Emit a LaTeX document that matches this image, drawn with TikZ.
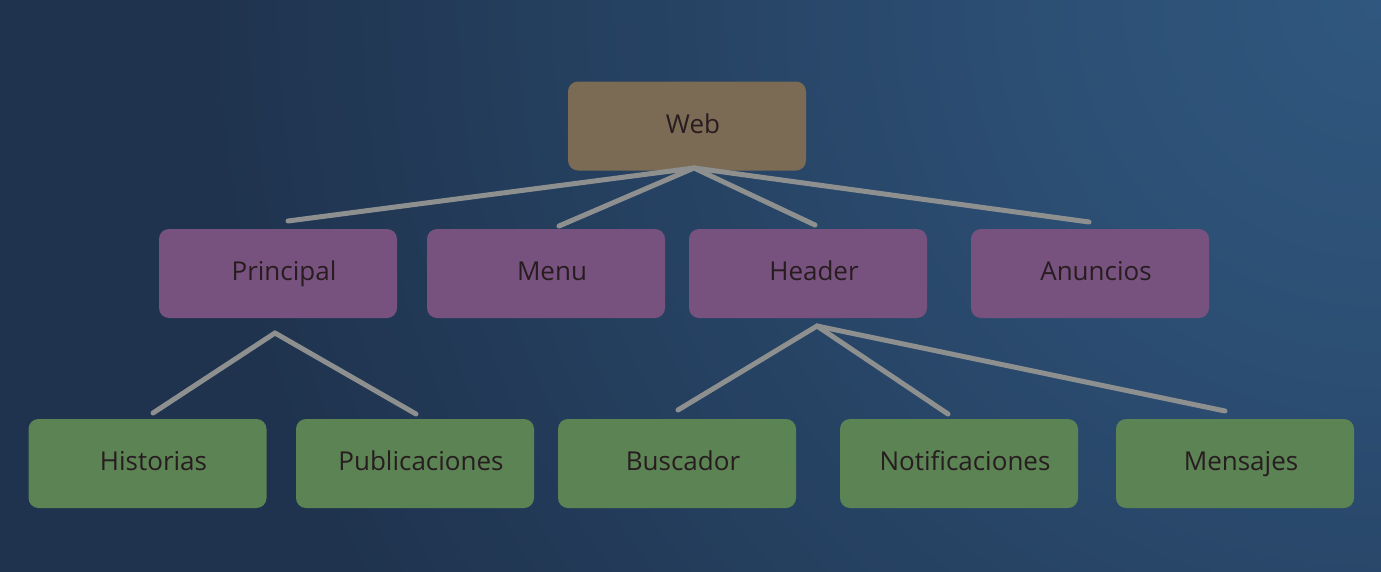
\documentclass[tikz,border=0pt]{standalone}
\usepackage{fontspec}
\setmainfont{Open Sans}
\usetikzlibrary{calc}
\definecolor{bgbase}{HTML}{1F334E}
\definecolor{bglight}{HTML}{30577F}
\definecolor{webfill}{HTML}{7C6B54}
\definecolor{purplefill}{HTML}{77527E}
\definecolor{greenfill}{HTML}{5B8353}
\definecolor{linkgray}{HTML}{8E9090}
\definecolor{textdark}{HTML}{271C20}
\pgfdeclareradialshading{bgglow}{\pgfpoint{0bp}{0bp}}{%
  color(0bp)=(bglight); color(6bp)=(bglight!75!bgbase); color(19bp)=(bgbase); color(50bp)=(bgbase)}
\tikzset{
  box/.style={rounded corners=10pt, minimum width=238pt, minimum height=89pt,
    inner sep=0pt, font=\fontsize{26}{30}\selectfont, text=textdark,
    text height=20pt, text depth=6pt,
    execute at begin node=\hspace*{12pt}},
  webbox/.style={box, fill=webfill},
  secbox/.style={box, fill=purplefill},
  leafbox/.style={box, fill=greenfill},
  link/.style={draw=linkgray, line width=5pt, line cap=round, line join=round}
}
\begin{document}
\begin{tikzpicture}[x=1pt,y=-1pt]
\useasboundingbox (0,0) rectangle (1381,571);
% background
\fill[bgbase] (0,0) rectangle (1381,571);
\begin{scope}
\clip (0,0) rectangle (1381,571);
\shade[shading=bgglow] (1381,0) circle (1550);
\end{scope}
% nodes
\node[webbox]  (web)   at (687,126)  {Web};
\node[secbox]  (princ) at (278,273.5) {Principal};
\node[secbox]  (menu)  at (546,273.5) {Menu};
\node[secbox]  (head)  at (808,273.5) {Header};
\node[secbox]  (anun)  at (1090,273.5) {Anuncios};
\node[leafbox] (hist)  at (147.5,463.5) {Historias};
\node[leafbox] (publ)  at (415,463.5) {Publicaciones};
\node[leafbox] (busc)  at (677,463.5) {Buscador};
\node[leafbox] (noti)  at (959,463.5) {Notificaciones};
\node[leafbox] (mens)  at (1235,463.5) {Mensajes};
% connector anchor points
\coordinate (webapex) at (694,168);
\coordinate (princapex) at (275,333);
\coordinate (headapex) at (817,326);
\coordinate (toprinc) at (288,221);
\coordinate (tomenu) at (559,226);
\coordinate (tohead) at (815,225);
\coordinate (toanun) at (1089,222);
\coordinate (tohist) at (153,413);
\coordinate (topubl) at (416,414);
\coordinate (tobusc) at (678,410);
\coordinate (tonoti) at (948,414);
\coordinate (tomens) at (1225,411);
% connectors
\draw[link] (webapex) -- (toprinc);
\draw[link] (webapex) -- (tomenu);
\draw[link] (webapex) -- (tohead);
\draw[link] (webapex) -- (toanun);
\draw[link] (princapex) -- (tohist);
\draw[link] (princapex) -- (topubl);
\draw[link] (headapex) -- (tobusc);
\draw[link] (headapex) -- (tonoti);
\draw[link] (headapex) -- (tomens);
\end{tikzpicture}
\end{document}
